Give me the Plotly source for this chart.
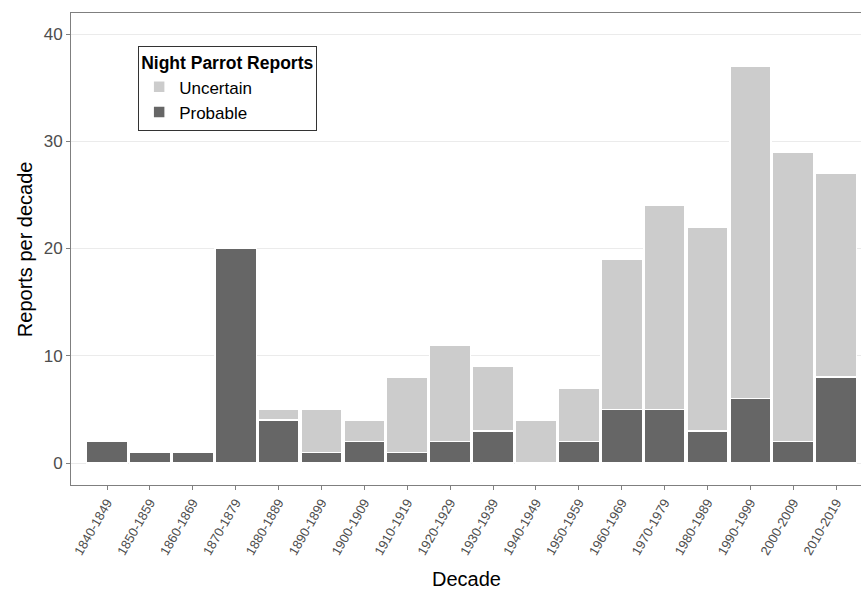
import plotly.graph_objects as go

decades = ["1840-1849", "1850-1859", "1860-1869", "1870-1879", "1880-1889", "1890-1899",
           "1900-1909", "1910-1919", "1920-1929", "1930-1939", "1940-1949", "1950-1959",
           "1960-1969", "1970-1979", "1980-1989", "1990-1999", "2000-2009", "2010-2019"]
probable = [2, 1, 1, 20, 4, 1, 2, 1, 2, 3, 0, 2, 5, 5, 3, 6, 2, 8]
uncertain = [0, 0, 0, 0, 1, 4, 2, 7, 9, 6, 4, 5, 14, 19, 19, 31, 27, 19]
y_ticks = [0, 10, 20, 30, 40]

FONT = "Liberation Sans, Arial, sans-serif"

fig = go.Figure()
fig.add_trace(go.Bar(x=decades, y=probable, name="Probable",
                     marker=dict(color="#666666", line=dict(color="white", width=1.5))))
fig.add_trace(go.Bar(x=decades, y=uncertain, name="Uncertain",
                     marker=dict(color="#cccccc", line=dict(color="white", width=1.5))))

fig.update_layout(
    barmode="stack",
    bargap=0.04,
    width=861, height=589,
    margin=dict(l=71, r=0, t=12.5, b=104, autoexpand=False),
    paper_bgcolor="white", plot_bgcolor="white",
    font=dict(family=FONT, color="#4d4d4d"),
    legend=dict(
        title=dict(text="<b>Night Parrot Reports</b>", font=dict(size=17.5, color="black")),
        traceorder="reversed",
        x=0.085, y=0.931, xanchor="left", yanchor="top",
        bgcolor="white", bordercolor="#333333", borderwidth=1,
        font=dict(size=17, color="black"),
        itemwidth=30, tracegroupgap=0,
    ),
    showlegend=True,
    annotations=[
        dict(text="Decade", xref="paper", yref="paper", x=0.5, y=-0.199,
             xanchor="center", yanchor="middle", showarrow=False,
             font=dict(size=20, color="black")),
        dict(text="Reports per decade", xref="paper", yref="paper", x=-0.058, y=0.5,
             xanchor="center", yanchor="middle", showarrow=False, textangle=-90,
             font=dict(size=20, color="black")),
    ],
)

fig.update_xaxes(
    type="category", range=[-0.84, 17.58], automargin=False,
    showgrid=False, showline=True, linecolor="#7f7f7f", linewidth=1, mirror=True,
    ticks="outside", ticklen=4, tickcolor="#7f7f7f",
    tickangle=-60, tickfont=dict(size=13, color="#4d4d4d"),
)
fig.update_yaxes(
    range=[-2.05, 41.96], tickvals=y_ticks, automargin=False,
    showgrid=True, gridcolor="#ebebeb", gridwidth=1, zeroline=False,
    showline=True, linecolor="#7f7f7f", linewidth=1,
    ticks="outside", ticklen=4, tickcolor="#7f7f7f",
    tickfont=dict(size=17, color="#4d4d4d"),
)

fig.write_html("out.html", config={"displayModeBar": False},
               post_script="document.body.style.margin='0';document.body.style.overflow='hidden';")
